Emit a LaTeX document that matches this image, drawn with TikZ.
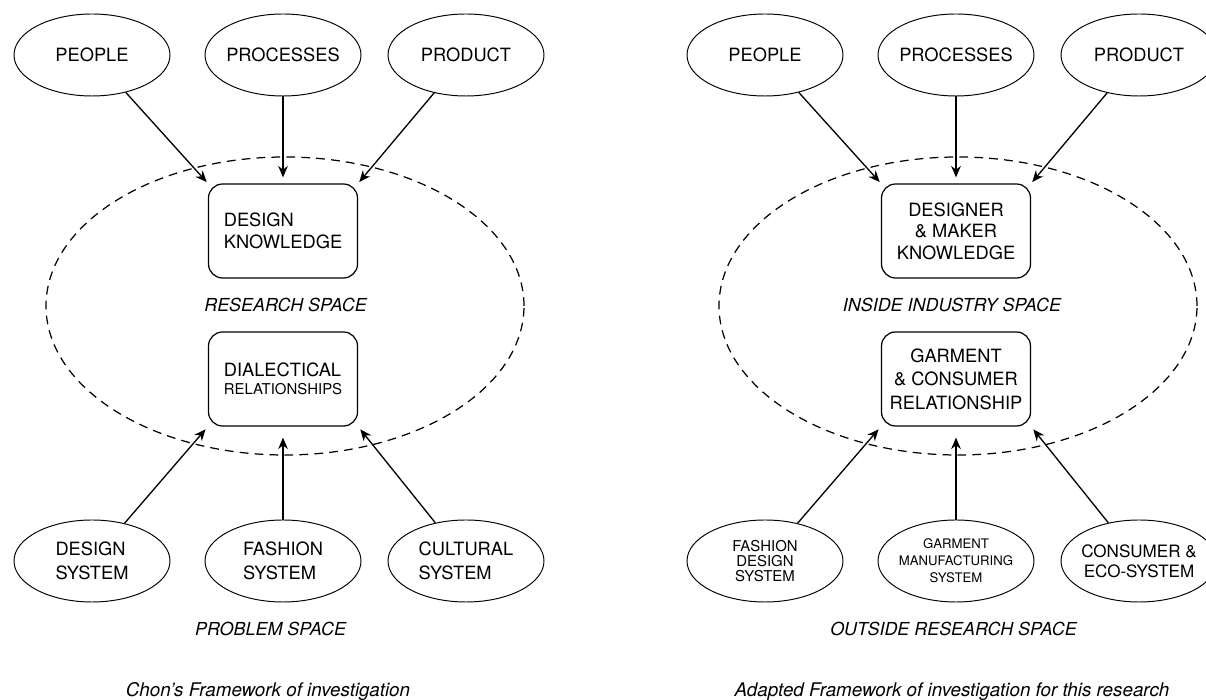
\documentclass[tikz,border=0pt]{standalone}
\usepackage{fontspec}
\setmainfont{TeX Gyre Heros}
\usetikzlibrary{positioning, arrows.meta, shapes.geometric}
\tikzset{
  src/.style={
      ellipse,
      draw,
      line width=0.55pt,
      minimum width=3.12cm,
      minimum height=1.64cm,
      inner xsep=-0.3cm,
      inner ysep=-0.1cm,
      font=\fontsize{10.4}{13.3}\selectfont
    },
  core/.style={
      rectangle,
      draw,
      line width=0.7pt,
      rounded corners=8pt,
      minimum width=2.98cm,
      minimum height=1.88cm,
      font=\fontsize{10.4}{12.3}\selectfont
    },
  zone/.style={
      draw,
      dash pattern=on 5pt off 3.5pt,
      line width=0.7pt
    },
  spacelbl/.style={
      anchor=base,
      font=\fontsize{10.2}{12}\selectfont\itshape
    },
  figcap/.style={
      anchor=base,
      font=\fontsize{10.7}{12}\selectfont\itshape
    },
  arr/.style={
      -{Stealth[length=6.5pt, width=5.5pt]},
      line width=0.75pt
    }
}

\begin{document}
\begin{tikzpicture}
  \useasboundingbox (0,0) rectangle (24.12,14);
  % Chon's framework
  \draw[zone] (5.7,7.88) ellipse (4.78cm and 2.98cm);
  \node[src] (people) at (1.84,12.9) {PEOPLE}; \node[src] (proc) at (5.66,12.9) {PROCESSES}; \node[src] (prod) at (9.32,12.9) {PRODUCT};
  \node[core, align=left] (know) at (5.66,9.38) {DESIGN\\KNOWLEDGE};
  \node[spacelbl] (rspace) at (5.71,7.76) {RESEARCH SPACE};
  \node[core, align=left, font=\fontsize{10.4}{10.2}\selectfont] (dial) at (5.66,6.42) {DIALECTICAL\\{\fontsize{8.5}{8.5}\selectfont RELATIONSHIPS}};
  \node[src, align=left] (dsys) at (1.84,2.78) {DESIGN\\SYSTEM}; \node[src, align=left] (fsys) at (5.66,2.78) {FASHION\\SYSTEM}; \node[src, align=left] (csys) at (9.32,2.78) {CULTURAL\\SYSTEM};
  \node[spacelbl] (pspace) at (5.41,1.28) {PROBLEM SPACE};
  \node[figcap] (chon) at (5.36,0.06) {Chon’s Framework of investigation};
  \draw[arr, shorten >=1pt] (people) -- (know.north west);
  \draw[arr, shorten >=0.12cm] (proc) -- (know);
  \draw[arr, shorten >=1pt] (prod) -- (know.north east);
  \draw[arr, shorten >=2pt] (dsys) -- (dial.south west);
  \draw[arr, shorten >=0.22cm] (fsys) -- (dial);
  \draw[arr, shorten >=2pt] (csys) -- (dial.south east);

  % adapted framework
  \draw[zone] (19.16,7.88) ellipse (4.78cm and 2.98cm);
  \node[src] (people2) at (15.3,12.9) {PEOPLE}; \node[src] (proc2) at (19.12,12.9) {PROCESSES}; \node[src] (prod2) at (22.78,12.9) {PRODUCT};
  \node[core, align=center] (maker) at (19.12,9.38) {DESIGNER\\\& MAKER\\KNOWLEDGE};
  \node[spacelbl] (ispace) at (19.04,7.76) {INSIDE INDUSTRY SPACE};
  \node[core, align=center, font=\fontsize{10.4}{13.3}\selectfont] (garm) at (19.12,6.42) {GARMENT\\\& CONSUMER\\RELATIONSHIP};
  \node[src, align=center, font=\fontsize{8.5}{8.6}\selectfont] (fdsys) at (15.3,2.78) {FASHION\\DESIGN\\SYSTEM};
  \node[src, align=center, font=\fontsize{7.5}{9.7}\selectfont] (gmsys) at (19.12,2.78) {GARMENT\\MANUFACTURING\\SYSTEM};
  \node[src, align=center, font=\fontsize{9.7}{11.4}\selectfont] (eco) at (22.78,2.78) {CONSUMER \&\\ECO-SYSTEM};
  \node[spacelbl] (ospace) at (19.07,1.28) {OUTSIDE RESEARCH SPACE};
  \node[figcap] (adapt) at (19.04,0.06) {Adapted Framework of investigation for this research};
  \draw[arr, shorten >=1pt] (people2) -- (maker.north west);
  \draw[arr, shorten >=0.12cm] (proc2) -- (maker);
  \draw[arr, shorten >=1pt] (prod2) -- (maker.north east);
  \draw[arr, shorten >=2pt] (fdsys) -- (garm.south west);
  \draw[arr, shorten >=0.22cm] (gmsys) -- (garm);
  \draw[arr, shorten >=2pt] (eco) -- (garm.south east);
\end{tikzpicture}
\end{document}
